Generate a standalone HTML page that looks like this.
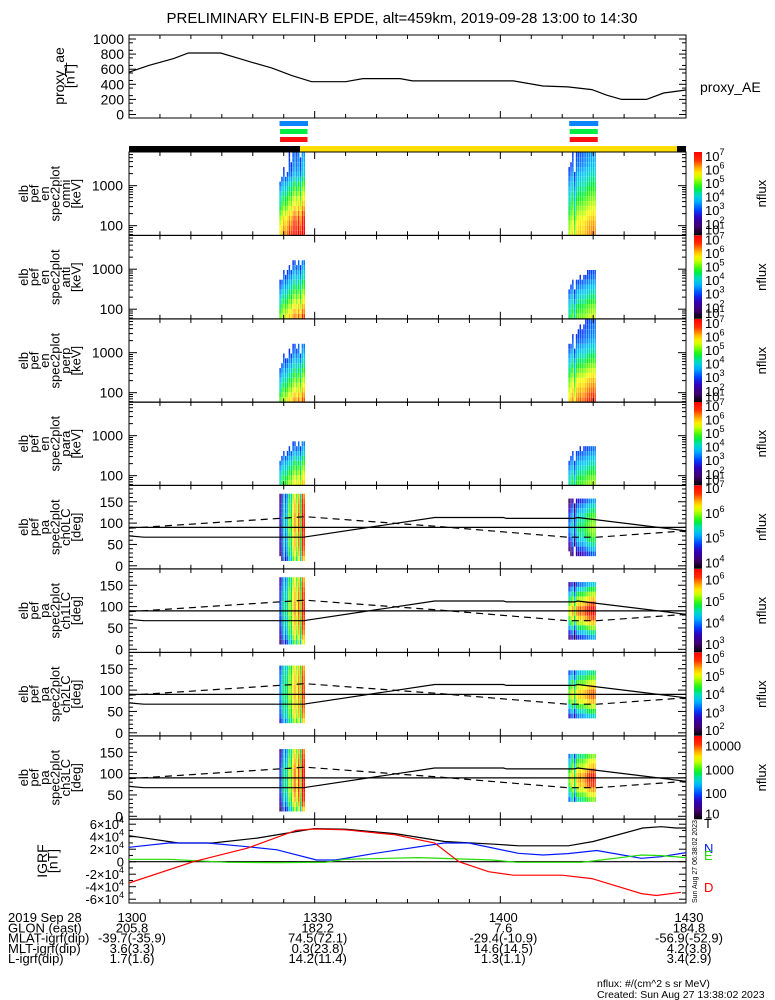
<!DOCTYPE html>
<html><head><meta charset="utf-8">
<style>
html,body{margin:0;padding:0;background:#fff;}
svg{display:block;font-family:"Liberation Sans",sans-serif;}
</style></head>
<body>
<svg id="chart" width="775" height="1000" viewBox="0 0 775 1000" xmlns="http://www.w3.org/2000/svg">
<text x="402" y="23" font-size="15" text-anchor="middle">PRELIMINARY ELFIN-B EPDE, alt=459km, 2019-09-28 13:00 to 14:30</text>
</svg>
<script>
// ---------- data ----------
const aeMin = [0,3.2,7.2,9.6,14.8,17.5,19.9,23.1,26.3,29.5,35,37.8,43.8,45.8,62.1,66.9,70.9,74.8,77.2,79.6,83.6,86.4,90];
const aeVal = [560,650,740,815,815,750,690,615,515,435,435,475,475,445,445,378,365,330,255,200,200,285,325];
const aeTicks = [0,200,400,600,800,1000];

const igrfTMin = [0,8,13.5,20.7,29.9,35,43,51,59,63,71,75,83,86,88.4,90];
const igrfTVal = [41600,30000,30000,37800,53000,52000,45000,32400,28000,25400,25400,32400,54000,56000,54000,54000];
const igrfNMin = [0,6.4,12.7,19.1,23.9,30.3,33.4,39.8,50.9,54.9,62.9,66.9,70.9,75.6,82.8,86,90];
const igrfNVal = [23000,30000,30000,24000,19000,2700,2700,13500,30000,30000,13500,10800,13000,18000,5400,8000,14600];
const igrfEMin = [0,6.4,15.9,23.9,31.8,34.8,46.8,58.7,62.7,73.1,76.3,82.8,86,90];
const igrfEVal = [3800,3800,-1000,-1600,-1000,3800,6500,2700,-1000,-1000,2700,10800,9700,6500];
const igrfDMin = [0,10.4,19.1,27,29.9,35,43,49.4,53.3,58.1,62.1,70,74.8,82.8,85.2,89.2];
const igrfDVal = [-34000,0,21600,50300,52400,51000,43000,30000,0,-16000,-21600,-21600,-27000,-51000,-54000,-49000];
const igrfTicks = [-60000,-40000,-20000,0,20000,40000,60000];

const energyEdges = [58,77,102,135,178,236,312,413,546,722,955,1263,1670,2208,2920,3862,5107,6950];
const paEdges = [0,11.25,22.5,33.75,45,56.25,67.5,78.75,90,101.25,112.5,123.75,135,146.25,157.5,168.75,180];
const burst1Times = [24.3,24.6,24.9,25.2,25.5,25.8,26.1,26.4,26.7,27.0,27.3,27.6,27.9,28.2,28.5];
const burst2Times = [71.0,71.3,71.6,71.9,72.2,72.5,72.8,73.1,73.4,73.7,74.0,74.3,74.6,74.9,75.2,75.5];
const burst1Offsets = [-0.9,-0.7,-0.2,-0.5,-0.3,0.1,-0.1,0.3,0.5,0.2,0.6,0.0,0.8,0.7];
const burst2Offsets = [-0.5,-0.3,0.0,-0.7,0.0,0.1,0.2,0.1,0.2,0.3,0.4,0.5,0.5,0.6,0.5];
// energy spectra, log10 nflux, low -> high energy
const omniB1 = [6.7,6.5,6.3,6.1,5.8,5.5,5.2,5.0,4.7,4.4,4.1,3.7,3.3,3.1,3.0,2.9,2.8];
const omniB2 = [5.8,5.7,5.6,5.4,5.2,5.0,4.8,4.6,4.4,4.2,4.0,3.8,3.6,3.4,3.2,3.1,3.0];
const antiB1 = [5.9,5.6,5.3,5.0,4.7,4.4,4.1,3.8,3.5,3.2,2.9,2.6,0,0,0,0,0];
const antiB2 = [4.9,4.7,4.5,4.2,3.9,3.6,3.3,3.0,2.7,2.5,0,0,0,0,0,0,0];
const perpB1 = [5.8,5.5,5.2,4.9,4.6,4.3,4.0,3.7,3.4,3.1,2.8,2.6,0,0,0,0,0];
const perpB2 = [6.3,6.1,5.9,5.7,5.5,5.2,4.9,4.6,4.3,4.0,3.7,3.4,3.1,2.9,2.8,2.7,2.6];
const paraB1 = [5.2,5.0,4.7,4.4,4.1,3.7,3.3,2.9,2.6,0,0,0,0,0,0,0,0];
const paraB2 = [4.7,4.5,4.2,3.9,3.6,3.3,3.0,2.7,0,0,0,0,0,0,0,0,0];
// pitch-angle profiles, log10 nflux, 0 -> 180 deg (null = no data)
const ch0B1 = [null,5.3,5.5,5.6,5.7,5.7,5.7,5.8,5.8,5.8,5.8,5.7,5.7,5.6,5.5,null];
const ch0B2 = [null,null,4.3,4.6,4.9,5.1,5.3,5.4,5.4,5.3,5.2,5.0,4.8,4.5,null,null];
const ch1B1 = [null,4.3,4.6,4.8,4.9,5.0,5.0,5.1,5.1,5.1,5.0,5.0,4.9,4.8,4.7,null];
const ch1B2 = [null,null,3.6,4.1,4.6,5.1,5.5,5.8,5.8,5.5,5.1,4.7,4.3,3.8,null,null];
const ch2B1 = [null,null,4.1,4.4,4.5,4.6,4.6,4.7,4.7,4.7,4.6,4.6,4.5,4.4,null,null];
const ch2B2 = [null,null,null,3.3,3.8,4.3,4.8,5.1,5.1,4.8,4.4,4.0,3.6,null,null,null];
const ch3B1 = [null,2.5,2.8,3.0,3.1,3.2,3.2,3.2,3.2,3.2,3.1,3.0,2.9,2.8,null,null];
const ch3B2 = [null,null,null,2.6,2.9,3.2,3.5,3.6,3.6,3.4,3.1,2.9,2.6,null,null,null];
const paSolidMin = [0,2.4,28.3,28.6,49.4,60.5,61,72,72.5,90];
const paSolidVal = [70,67,67,68,113,113,111,111,113,82];
const paDashMin = [0,28.5,50,70.9,75.6,90];
const paDashVal = [88,115,92,67,67,82];
const paLevel = 90;

// ---------- helpers ----------
const svg = document.getElementById('chart');
const NS = 'http://www.w3.org/2000/svg';
const X0 = 129, X1 = 686;
const X = m => X0 + m * (X1 - X0) / 90;
function mk(tag, attrs, parent) {
  const e = document.createElementNS(NS, tag);
  for (const k in attrs) e.setAttribute(k, attrs[k]);
  (parent || svg).appendChild(e);
  return e;
}
const stops = [[0,[0,0,0]],[0.1,[64,0,106]],[0.22,[48,0,192]],[0.3,[0,64,255]],[0.42,[0,192,255]],[0.5,[0,224,176]],[0.57,[0,240,32]],[0.67,[160,255,0]],[0.73,[255,255,0]],[0.81,[255,176,0]],[0.9,[255,48,0]],[1,[255,0,0]]];
function cmap(t) {
  t = Math.max(0, Math.min(1, t));
  for (let i = 1; i < stops.length; i++) {
    if (t <= stops[i][0]) {
      const a = stops[i-1], b = stops[i], f = (t - a[0]) / (b[0] - a[0]);
      const c = a[1].map((v, j) => Math.round(v + (b[1][j] - v) * f));
      return `rgb(${c[0]},${c[1]},${c[2]})`;
    }
  }
  return 'rgb(255,0,0)';
}
function rotLabel(lines, cx, cy, name, size) {
  const g = mk('g', {});
  
  
  const n = lines.length, sp = 10.5;
  lines.forEach((s, i) => {
    const x = cx - (n - 1) * sp / 2 + i * sp;
    const t = mk('text', {transform: `translate(${x},${cy}) rotate(-90)`, 'text-anchor': 'middle', 'font-size': size || 13}, g);
    t.textContent = s;
  });
}
function timeTicks(top, bottom) {
  for (let m = 0; m <= 90; m += 5) {
    const major = m % 30 === 0, len = major ? 7 : 4;
    mk('line', {x1: X(m), x2: X(m), y1: bottom, y2: bottom - len, stroke: '#000'});
    mk('line', {x1: X(m), x2: X(m), y1: top, y2: top + len, stroke: '#000'});
  }
}
function polyline(mins, vals, fy, color, dash, name) {
  const pts = mins.map((m, i) => `${X(m).toFixed(1)},${fy(vals[i]).toFixed(1)}`).join(' ');
  const p = mk('polyline', {points: pts, fill: 'none', stroke: color, 'stroke-width': 1.2});
  if (dash) p.setAttribute('stroke-dasharray', dash);
  
  
}

// ---------- proxy AE panel ----------
const aeTop = 35, aeBot = 118;
const yAE = v => 114.5 - v * 0.0755;
mk('rect', {x: X0, y: aeTop, width: X1 - X0, height: aeBot - aeTop, fill: 'none', stroke: '#000'});
aeTicks.forEach(v => {
  mk('line', {x1: X0, x2: X0 + 7, y1: yAE(v), y2: yAE(v), stroke: '#000'});
  mk('line', {x1: X1, x2: X1 - 7, y1: yAE(v), y2: yAE(v), stroke: '#000'});
  const t = mk('text', {x: 124, y: yAE(v) + 5, 'text-anchor': 'end', 'font-size': 14});
  t.textContent = v;
  
  
});
for (let v = 50; v < 1000; v += 100) {
  mk('line', {x1: X0, x2: X0 + 4, y1: yAE(v), y2: yAE(v), stroke: '#000'});
  mk('line', {x1: X1, x2: X1 - 4, y1: yAE(v), y2: yAE(v), stroke: '#000'});
}
timeTicks(aeTop, aeBot);
polyline(aeMin, aeVal, yAE, '#000', null, 'proxy-ae-line');
rotLabel(['proxy_ae', '[nT]'], 69, 76, 'ae-y-axis-title', 14);
{ const t = mk('text', {x: 700, y: 92, 'font-size': 14}); t.textContent = 'proxy_AE';
    }

// ---------- burst indicator bars ----------
[[24.0,28.6],[70.8,75.5]].forEach(b => {
  const r1 = mk('rect', {x: X(b[0]) + 2, y: 121, width: X(b[1]) - X(b[0]), height: 5, fill: '#0a84ff'});
   
  const r2 = mk('rect', {x: X(b[0]) + 2.5, y: 129, width: X(b[1]) - X(b[0]) - 1, height: 5, fill: '#00ee44'});
   
  const r3 = mk('rect', {x: X(b[0]) + 2.5, y: 137, width: X(b[1]) - X(b[0]) - 1, height: 5, fill: '#ff1010'});
   
});
mk('rect', {x: X0, y: 146, width: 300 - X0, height: 6, fill: '#000'});
mk('rect', {x: 300, y: 146, width: 377, height: 6, fill: '#ffdd00'});
mk('rect', {x: 677, y: 146, width: 9, height: 6, fill: '#000'});

// ---------- spectrogram panels ----------
const panelTops = [152, 235.5, 319, 402, 485.5, 569, 652.5, 736];
const panelH = 83.3;
const energyPanels = [
  {name: 'omni', b1: omniB1, b2: omniB2},
  {name: 'anti', b1: antiB1, b2: antiB2},
  {name: 'perp', b1: perpB1, b2: perpB2},
  {name: 'para', b1: paraB1, b2: paraB2}
];
const paPanels = [
  {name: 'ch0LC', b1: ch0B1, b2: ch0B2, lo: 3.75, hi: 7.1, labels: [4,5,6,7]},
  {name: 'ch1LC', b1: ch1B1, b2: ch1B2, lo: 2.6, hi: 6.5, labels: [3,4,5,6]},
  {name: 'ch2LC', b1: ch2B1, b2: ch2B2, lo: 1.7, hi: 6.3, labels: [2,3,4,5,6]},
  {name: 'ch3LC', b1: ch3B1, b2: ch3B2, lo: 0.9, hi: 4.4, labels: [1,2,3,4]}
];
function colorbar(top, lo, hi, labels, name, plain) {
  const gid = 'cb' + Math.round(top);
  const grad = mk('linearGradient', {id: gid, x1: 0, y1: 1, x2: 0, y2: 0});
  for (let i = 0; i <= 20; i++) mk('stop', {offset: i / 20, 'stop-color': cmap(i / 20)}, grad);
  const r = mk('rect', {x: 694, y: top, width: 8, height: panelH, fill: `url(#${gid})`});
  
  
  labels.forEach(L => {
    let y = top + (hi - L) / (hi - lo) * panelH + 5;
    y = Math.min(y, top + panelH - 1);
    const t = mk('text', {x: 705, y: y, 'font-size': 13});
    if (plain) t.textContent = String(Math.pow(10, L));
    else { t.textContent = '10'; const s = mk('tspan', {dy: -6, 'font-size': 9}, t); s.textContent = L; }
    
    
  });
  const nt = mk('text', {transform: `translate(766,${top + panelH / 2}) rotate(-90)`, 'text-anchor': 'middle', 'font-size': 13});
  nt.textContent = 'nflux';
  
  
}
function drawCells(times, offsets, profile, edges, yf, lo, hi, minShow, name) {
  const g = mk('g', {});
  
  
  for (let c = 0; c < times.length - 1; c++) {
    const xa = X(times[c]), xb = X(times[c + 1]) - 0.4;
    for (let k = 0; k < profile.length; k++) {
      if (profile[k] === null || k + 1 >= edges.length) continue;
      const v = profile[k] + offsets[c];
      if (v < minShow || profile[k] <= 0.01) continue;
      const ya = yf(edges[k + 1]), yb = yf(edges[k]);
      mk('rect', {x: xa.toFixed(2), y: ya.toFixed(2), width: (xb - xa).toFixed(2), height: (yb - ya).toFixed(2), fill: cmap((v - lo) / (hi - lo))}, g);
    }
  }
}
energyPanels.forEach((p, i) => {
  const top = panelTops[i], bot = top + panelH;
  const yE = E => top + (Math.log10(6950) - Math.log10(E)) * 40;
  const lo = 1.15, hi = 7.3;
  drawCells(burst1Times, burst1Offsets, p.b1, energyEdges, yE, lo, hi, 2.9, p.name + '-burst1-cells');
  drawCells(burst2Times, burst2Offsets, p.b2, energyEdges, yE, lo, hi, 2.9, p.name + '-burst2-cells');
  mk('rect', {x: X0, y: top, width: X1 - X0, height: panelH, fill: 'none', stroke: '#000'});
  [100, 1000].forEach(E => {
    mk('line', {x1: X0, x2: X0 + 8, y1: yE(E), y2: yE(E), stroke: '#000'});
    mk('line', {x1: X1, x2: X1 - 8, y1: yE(E), y2: yE(E), stroke: '#000'});
    const t = mk('text', {x: 123, y: yE(E) + 5, 'text-anchor': 'end', 'font-size': 14});
    t.textContent = E;
    
    
  });
  [60,70,80,90,200,300,400,500,600,700,800,900,2000,3000,4000,5000,6000].forEach(E => {
    if (yE(E) > bot || yE(E) < top) return;
    mk('line', {x1: X0, x2: X0 + 4, y1: yE(E), y2: yE(E), stroke: '#000'});
    mk('line', {x1: X1, x2: X1 - 4, y1: yE(E), y2: yE(E), stroke: '#000'});
  });
  timeTicks(top, bot);
  rotLabel(['elb', 'pef', 'en', 'spec2plot', p.name, '[keV]'], 54, top + panelH / 2, p.name + '-y-axis-title');
  colorbar(top, lo, hi, [7,6,5,4,3,2,1], p.name, false);
});
paPanels.forEach((p, i) => {
  const top = panelTops[4 + i], bot = top + panelH;
  const yP = d => bot - 3 - d * 0.427;
  drawCells(burst1Times, burst1Offsets.map(o => o * 1.5), p.b1, paEdges, yP, p.lo, p.hi, p.lo + 0.25, p.name + '-burst1-cells');
  drawCells(burst2Times, burst2Offsets, p.b2, paEdges, yP, p.lo, p.hi, p.lo + 0.25, p.name + '-burst2-cells');
  mk('rect', {x: X0, y: top, width: X1 - X0, height: panelH, fill: 'none', stroke: '#000'});
  [0, 50, 100, 150].forEach(d => {
    mk('line', {x1: X0, x2: X0 + 8, y1: yP(d), y2: yP(d), stroke: '#000'});
    mk('line', {x1: X1, x2: X1 - 8, y1: yP(d), y2: yP(d), stroke: '#000'});
    const t = mk('text', {x: 123, y: yP(d) + 5, 'text-anchor': 'end', 'font-size': 14});
    t.textContent = d;
    
    
  });
  for (let d = 10; d <= 180; d += 10) if (d % 50) {
    mk('line', {x1: X0, x2: X0 + 4, y1: yP(d), y2: yP(d), stroke: '#000'});
    mk('line', {x1: X1, x2: X1 - 4, y1: yP(d), y2: yP(d), stroke: '#000'});
  }
  timeTicks(top, bot);
  polyline([0, 90], [paLevel, paLevel], yP, '#000', null, p.name + '-90deg-line');
  polyline(paSolidMin, paSolidVal, yP, '#000', null, p.name + '-loss-cone-line');
  polyline(paDashMin, paDashVal, yP, '#000', '7,5', p.name + '-anti-loss-cone-line');
  rotLabel(['elb', 'pef', 'pa', 'spec2plot', p.name, '[deg]'], 54, top + panelH / 2, p.name + '-y-axis-title');
  colorbar(top, p.lo, p.hi, p.labels.slice().reverse(), p.name, i === 3);
});

// ---------- IGRF panel ----------
const igTop = 819, igBot = 903;
const yIG = v => 861.7 - v / 60000 * 37.5;
mk('rect', {x: X0, y: igTop, width: X1 - X0, height: igBot - igTop, fill: 'none', stroke: '#000'});
mk('line', {x1: X0, x2: X1, y1: yIG(0), y2: yIG(0), stroke: '#000', 'stroke-width': 1.2});
igrfTicks.forEach(v => {
  mk('line', {x1: X0, x2: X0 + 7, y1: yIG(v), y2: yIG(v), stroke: '#000'});
  mk('line', {x1: X1, x2: X1 - 7, y1: yIG(v), y2: yIG(v), stroke: '#000'});
  const t = mk('text', {x: 124, y: yIG(v) + 5, 'text-anchor': 'end', 'font-size': 13});
  if (v === 0) t.textContent = '0';
  else { t.textContent = (v / 10000) + '×10'; const s = mk('tspan', {dy: -6, 'font-size': 9}, t); s.textContent = '4'; }
  
  
});
for (let v = -50000; v <= 50000; v += 10000) if (v % 20000) {
  mk('line', {x1: X0, x2: X0 + 4, y1: yIG(v), y2: yIG(v), stroke: '#000'});
  mk('line', {x1: X1, x2: X1 - 4, y1: yIG(v), y2: yIG(v), stroke: '#000'});
}
timeTicks(igTop, igBot);
polyline(igrfTMin, igrfTVal, yIG, '#000', null, 'igrf-t-line');
polyline(igrfNMin, igrfNVal, yIG, '#0018ff', null, 'igrf-n-line');
polyline(igrfEMin, igrfEVal, yIG, '#22dd00', null, 'igrf-e-line');
polyline(igrfDMin, igrfDVal, yIG, '#ff0000', null, 'igrf-d-line');
rotLabel(['IGRF', '[nT]'], 52, 861, 'igrf-y-axis-title', 14);
[['T', '#000', 828], ['N', '#0018ff', 853], ['E', '#22dd00', 860], ['D', '#ff0000', 892]].forEach(d => {
  const t = mk('text', {x: 704, y: d[2], 'font-size': 13, fill: d[1]});
  t.textContent = d[0];
  
  
});
{ const t = mk('text', {transform: 'translate(697,903) rotate(-90)', 'font-size': 7});
  t.textContent = 'Sun Aug 27 06:38:02 2023';
    }

// ---------- bottom ephemeris table ----------
const rowLabels = ['2019 Sep 28', 'GLON (east)', 'MLAT-igrf(dip)', 'MLT-igrf(dip)', 'L-igrf(dip)'];
const colMins = [0, 30, 60, 90];
const colVals = [
  ['1300', '205.8', '-39.7(-35.9)', '3.6(3.3)', '1.7(1.6)'],
  ['1330', '182.2', '74.5(72.1)', '0.3(23.8)', '14.2(11.4)'],
  ['1400', '7.6', '-29.4(-10.9)', '14.6(14.5)', '1.3(1.1)'],
  ['1430', '184.8', '-56.9(-52.9)', '4.2(3.8)', '3.4(2.9)']
];
rowLabels.forEach((s, r) => {
  const t = mk('text', {x: 8, y: 922 + r * 10.3, 'font-size': 13});
  t.textContent = s;
  
  
});
colVals.forEach((col, c) => col.forEach((s, r) => {
  const t = mk('text', {x: X(colMins[c]) + 3, y: 922 + r * 10.3, 'font-size': 13, 'text-anchor': 'middle'});
  t.textContent = s;
  
  
}));
[['nflux: #/(cm^2 s sr MeV)', 987], ['Created: Sun Aug 27 13:38:02 2023', 998]].forEach(d => {
  const t = mk('text', {x: 597, y: d[1], 'font-size': 10.5});
  t.textContent = d[0];
  
  
});
</script>
</body></html>
